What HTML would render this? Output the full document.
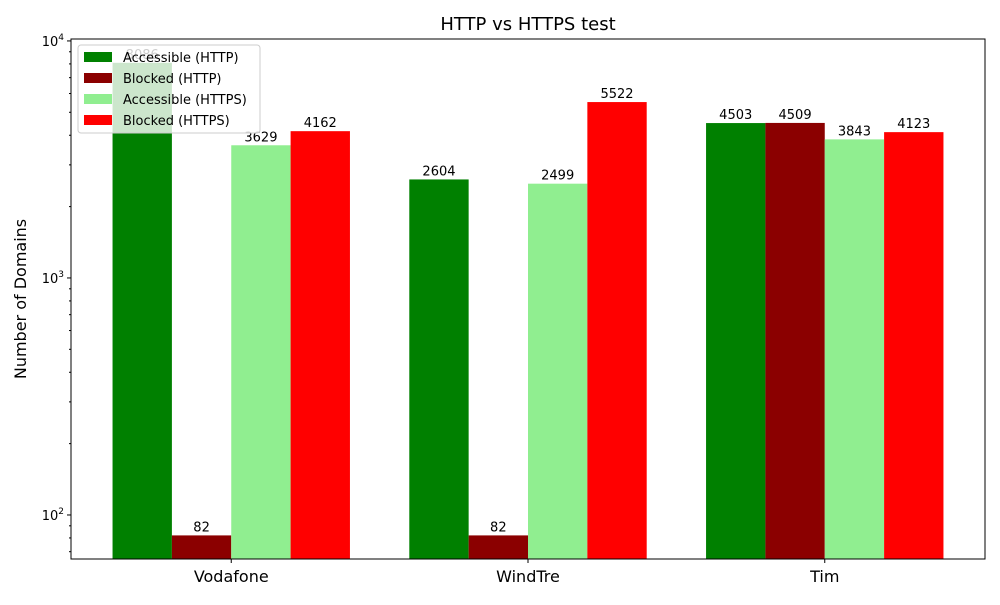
<!DOCTYPE html>
<html><head><meta charset="utf-8"><style>
body{margin:0;background:#fff}
text{font-family:"DejaVu Sans","Liberation Sans",sans-serif}
</style></head><body>
<svg width="1000" height="600" xmlns="http://www.w3.org/2000/svg" id="chart">
<rect width="1000" height="600" fill="#fff"/>
<text x="528" y="30" font-size="18" text-anchor="middle">HTTP vs HTTPS test</text>
<text transform="translate(26,299) rotate(-90)" font-size="16" text-anchor="middle">Number of Domains</text>
<g id="bars"></g><g id="ticks"></g>
<rect x="71" y="39" width="914" height="520" fill="none" stroke="#000" stroke-width="1"/>
<g id="legend"></g>
</svg>
<script>
const categories=["Vodafone","WindTre","Tim"];
const seriesNames=["Accessible (HTTP)","Blocked (HTTP)","Accessible (HTTPS)","Blocked (HTTPS)"];
const seriesColors=["#008000","#8b0000","#90ee90","#ff0000"];
const accHttp=[8086,2604,4503];
const blkHttp=[82,82,4509];
const accHttps=[3629,2499,3843];
const blkHttps=[4162,5522,4123];
const series=[accHttp,blkHttp,accHttps,blkHttps];
const NS="http://www.w3.org/2000/svg";
const L=71,R=985,T=39,B=559;
const yMin=Math.log10(65.2),yMax=Math.log10(10190);
const y=v=>B-(Math.log10(v)-yMin)/(yMax-yMin)*(B-T);
const xMin=-0.54,xMax=2.54;
const x=v=>L+(v-xMin)/(xMax-xMin)*(R-L);
function el(t,a,p){const e=document.createElementNS(NS,t);for(const k in a)e.setAttribute(k,a[k]);p.appendChild(e);return e;}
const gb=document.getElementById('bars'),gt=document.getElementById('ticks'),gl=document.getElementById('legend');
const w=0.2;
series.forEach((s,si)=>{s.forEach((v,ci)=>{
 const x0=x(ci-0.4+si*w),x1=x(ci-0.4+(si+1)*w);
 const r=el('rect',{x:x0,y:y(v),width:x1-x0,height:B-y(v),fill:seriesColors[si]},gb);
 
 
 const t=el('text',{x:(x0+x1)/2,y:y(v)-4,'font-size':13,'text-anchor':'middle'},gb);
 t.textContent=v;
 
 
});});
categories.forEach((c,i)=>{
 el('line',{x1:x(i),x2:x(i),y1:B,y2:B+4,stroke:'#000'},gt);
 const t=el('text',{x:x(i),y:B+23,'font-size':16,'text-anchor':'middle'},gt);
 t.textContent=c;
 
 
});
for(let e=1;e<=4;e++){for(let m=1;m<10;m++){const v=m*Math.pow(10,e);
 if(v<65.2||v>10190)continue;const yy=y(v);
 el('line',{x1:L,x2:L-(m==1?4:2),y1:yy,y2:yy,stroke:'#000'},gt);
 if(m==1){const t=el('text',{x:L-7,y:yy+5,'font-size':13,'text-anchor':'end'},gt);
  t.innerHTML='10<tspan dy="-6" font-size="9">'+e+'</tspan>';
  
  }
}}
const lb=el('rect',{x:78,y:45,width:182,height:88,rx:3,fill:'#fff','fill-opacity':0.8,stroke:'#ccc'},gl);


seriesNames.forEach((n,i)=>{const yy=57+i*21;
 el('rect',{x:84,y:yy-5,width:28,height:10,fill:seriesColors[i]},gl);
 const t=el('text',{x:123,y:yy+5,'font-size':13},gl);t.textContent=n;
 
 
});
</script>
</body></html>
